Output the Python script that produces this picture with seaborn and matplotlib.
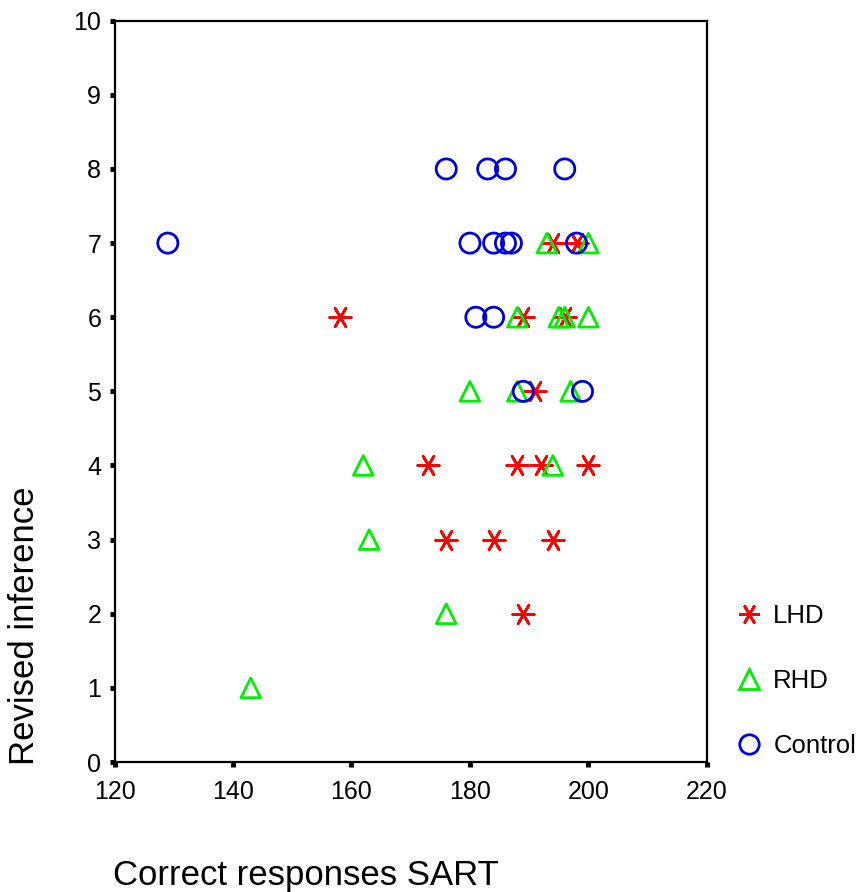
import matplotlib
matplotlib.use("Agg")
import matplotlib.pyplot as plt
from matplotlib.lines import Line2D
import seaborn as sns
import pandas as pd

# Data
lhd_x = [158, 189, 176, 184, 194, 173, 188, 192, 200, 191, 189, 196, 194, 198]
lhd_y = [6, 2, 3, 3, 3, 4, 4, 4, 4, 5, 6, 6, 7, 7]
rhd_x = [143, 176, 163, 162, 194, 180, 188, 197, 188, 195, 196, 200, 193, 200]
rhd_y = [1, 2, 3, 4, 4, 5, 5, 5, 6, 6, 6, 6, 7, 7]
ctl_x = [129, 176, 183, 186, 196, 180, 184, 186, 187, 198, 181, 184, 189, 199]
ctl_y = [7, 8, 8, 8, 8, 7, 7, 7, 7, 7, 6, 6, 5, 5]

groups = ["LHD", "RHD", "Control"]
x_ticks = [120, 140, 160, 180, 200, 220]
y_ticks = list(range(0, 11))

df = pd.DataFrame({
    "x": lhd_x + rhd_x + ctl_x,
    "y": lhd_y + rhd_y + ctl_y,
    "group": ["LHD"] * len(lhd_x) + ["RHD"] * len(rhd_x) + ["Control"] * len(ctl_x),
})

sns.set_style("white")
plt.rcParams["font.family"] = ["Liberation Sans", "DejaVu Sans"]
plt.rcParams["text.color"] = "black"

fig = plt.figure(figsize=(8.61, 8.92), dpi=100)
ax = fig.add_axes([0.133, 0.1457, 0.688, 0.8311])

colors = {"LHD": "#ff0000", "RHD": "#00ee00", "Control": "#0000dd"}
markers = {"LHD": (6, 2, 90), "RHD": "^", "Control": "o"}
sizes = {"LHD": 240, "RHD": 200, "Control": 210}

for g in groups:
    d = df[df["group"] == g]
    if g == "LHD":
        sns.scatterplot(data=d, x="x", y="y", ax=ax, marker=markers[g],
                        color=colors[g], s=sizes[g], linewidth=1.9, legend=False)
    else:
        sns.scatterplot(data=d, x="x", y="y", ax=ax, marker=markers[g],
                        color=colors[g], facecolor="none", edgecolor=colors[g],
                        s=sizes[g], linewidth=2.0, legend=False)

ax.set_xlim(120, 220)
ax.set_ylim(0, 10)
ax.set_xticks(x_ticks)
ax.set_yticks(y_ticks)
ax.tick_params(axis="both", which="major", bottom=True, left=True,
               direction="out", length=3.6, width=3.6,
               color="black", labelcolor="black", labelsize=18)
ax.tick_params(axis="x", pad=9)
ax.tick_params(axis="y", pad=6)
for s in ax.spines.values():
    s.set_visible(True)
    s.set_color("black")
    s.set_linewidth(1.6)
ax.set_xlabel("")
ax.set_ylabel("")

fig.text(0.029, 0.298, "Revised inference", rotation=90, fontsize=25,
         ha="center", va="center", color="black")
fig.text(0.355, 0.019, "Correct responses SART", fontsize=25,
         ha="center", va="center", color="black")

handles = []
for g in groups:
    if g == "LHD":
        h = Line2D([], [], linestyle="none", marker=markers[g], color=colors[g],
                   markersize=15, markeredgewidth=1.9)
    else:
        h = Line2D([], [], linestyle="none", marker=markers[g], color=colors[g],
                   markerfacecolor="none", markersize=14, markeredgewidth=2.0)
    handles.append(h)
leg = fig.legend(handles, groups, loc="upper left", bbox_to_anchor=(0.840, 0.334),
                 frameon=False, fontsize=18.5, labelspacing=1.58, handletextpad=0.35,
                 handlelength=1.2, borderaxespad=0)
for t in leg.get_texts():
    t.set_color("black")

fig.savefig("out.png", dpi=100)
